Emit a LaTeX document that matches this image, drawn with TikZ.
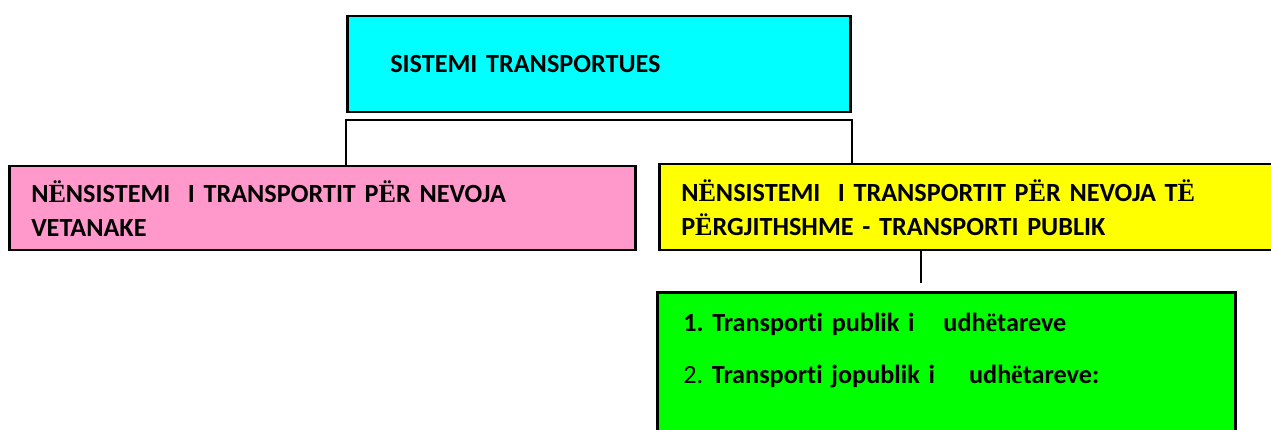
\documentclass[tikz,border=0pt]{standalone}
\usepackage{fontspec}
\setmainfont{Carlito}[Ligatures=NoCommon]
\newfontfamily\serfont{Liberation Serif}
\usepackage{tikz}
\usetikzlibrary{positioning}
\usepackage{xcolor}
\definecolor{syscyan}{HTML}{00FFFF}
\definecolor{ownpink}{HTML}{FF99CC}
\definecolor{pubyellow}{HTML}{FFFF00}
\definecolor{listgreen}{HTML}{00FF00}
\newcommand{\Edia}{{\serfont Ë}}
\newcommand{\edia}{{\serfont ë}}
\frenchspacing

\begin{document}
\begin{tikzpicture}[
    x=1pt, y=-1pt,
    box/.style={draw, line width=2.5pt, anchor=north west, inner xsep=22pt, align=left,
                font=\fontsize{26.2}{34}\selectfont\bfseries},
    link/.style={line width=2pt}
]
\useasboundingbox (0,0) rectangle (1271,430);
\clip (0,0) rectangle (1271,430);

\node[box, fill=syscyan, inner xsep=43pt, text width=417pt, minimum height=96pt] (top) at (346,15)
      {SISTEMI TRANSPORTUES};
\node[box, fill=ownpink, text width=582pt, minimum height=84pt] (own) at (8,165)
      {N\Edia NSISTEMI\ \ I TRANSPORTIT P\Edia R NEVOJA\\VETANAKE};
\node[box, fill=pubyellow, text width=576pt, minimum height=86pt] (public) at (658,163)
      {N\Edia NSISTEMI\ \ I TRANSPORTIT P\Edia R NEVOJA T\Edia\\P\Edia RGJITHSHME - TRANSPORTI PUBLIK};
\node[box, fill=listgreen, inner xsep=26pt, inner ysep=21pt, text width=526pt,
      font=\fontsize{26.2}{52}\selectfont\bfseries] (types) at (656,291)
      {1. Transporti publik i\hspace{1.1em}udh\edia tareve\\
       {\mdseries 2.} Transporti jopublik i\hspace{1.3em}udh\edia tareve:\\
       \strut\\ \strut};

% bracket from the system to both subsystems
\coordinate (bus) at (600,120);
\draw[link] (own.north -| top.south west) |- (bus) -| (public.north -| top.south east);

% public subsystem down to its list
\coordinate (drop) at (921,0);
\draw[link, shorten >=8pt] (public.south -| drop) -- (types.north -| drop);
\end{tikzpicture}
\end{document}
